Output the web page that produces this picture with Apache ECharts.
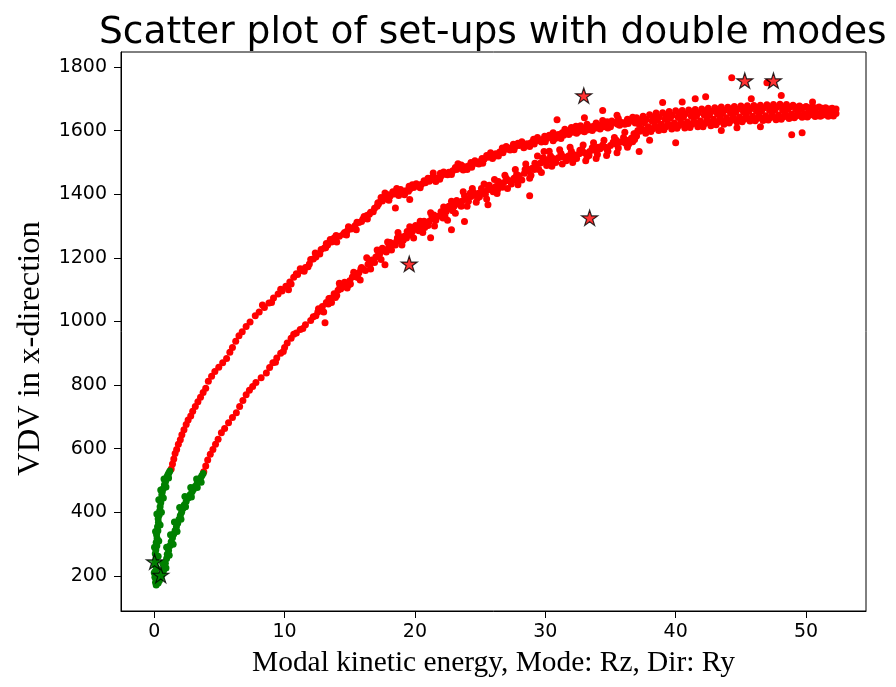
<!DOCTYPE html>
<html>
<head>
<meta charset="utf-8">
<script src="https://cdn.jsdelivr.net/npm/echarts@6/dist/echarts.min.js"></script>
<style>html,body{margin:0;padding:0;background:#fff}#chart{width:896px;height:687px}</style>
</head>
<body>
<div id="chart"></div>
<script>
const titleText = 'Scatter plot of set-ups with double modes';
const xName = 'Modal kinetic energy, Mode: Rz, Dir: Ry';
const yName = 'VDV in x-direction';
const xTicks = [0, 10, 20, 30, 40, 50];
const yTicks = [200, 400, 600, 800, 1000, 1200, 1400, 1600, 1800];

const greenUpper = [[0.15,172],[0.1,180],[0.2,188],[0.05,196],[0.12,205],[0.08,215],[0.18,225],[0.05,235],[0.1,248],[0.15,258],[0.08,270],[0.12,282],[0.2,295],[0.15,305],[0.22,318],[0.18,330],[0.28,342],[0.25,355],[0.32,368],[0.3,380],[0.38,392],[0.42,405],[0.45,418],[0.5,430],[0.55,442],[0.58,455],[0.62,465],[0.7,475],[0.78,486],[0.85,495],[0.9,503],[0.98,512],[1.05,518],[1.12,524],[1.2,530],
[0.25,200],[0.0,210],[0.3,262],[0.02,290],[0.35,310],[0.1,340],[0.45,360],[0.2,395],[0.55,400],[0.35,440],[0.7,445],[0.5,470],[0.9,480],[0.75,505],[1.1,508]];
const greenLower = [[0.3,178],[0.4,186],[0.5,195],[0.6,205],[0.7,215],[0.75,228],[0.85,240],[0.95,255],[1.0,268],[1.1,280],[1.2,295],[1.3,308],[1.4,320],[1.5,332],[1.6,343],[1.7,355],[1.8,366],[1.9,378],[2.0,390],[2.1,400],[2.2,412],[2.3,423],[2.45,434],[2.6,445],[2.75,455],[2.9,465],[3.0,472],[3.15,482],[3.3,492],[3.45,500],[3.55,508],[3.65,515],[3.75,522],
[0.9,225],[0.65,240],[1.15,265],[0.95,290],[1.45,300],[1.25,330],[1.75,340],[1.55,370],[2.05,378],[1.95,415],[2.4,418],[2.35,450],[2.85,448],[2.8,478],[3.3,478],[3.25,505],[3.6,495]];

const redUpper = [[1.3,536],[1.4,552],[1.5,568],[1.6,585],[1.72,598],[1.85,614],[2.0,628],[2.12,644],[2.28,660],[2.45,676],[2.6,690],[2.8,703],[2.95,718],[3.15,733],[3.35,748],[3.55,762],[3.75,777],[3.95,790],[4.15,812],[4.4,828],[4.65,843],[4.95,856],[5.25,870],[5.55,884],[5.8,903],[6.0,918],[6.25,938],[6.5,955],[6.75,968],[7.05,984],[7.35,998],[7.75,1018],[8.05,1030],[8.45,1044],[8.8,1058],[9.15,1074],[9.5,1086],[9.8,1096],[10.1,1111],[10.4,1124],[10.7,1139],[11.0,1148],[11.3,1160],[11.6,1170],[11.9,1181],[12.2,1196],[12.5,1212],[12.8,1226],[13.05,1231],[13.3,1240],[13.6,1250],[13.9,1257],[14.2,1268],[14.5,1274],[14.8,1284],[15.1,1291],[15.4,1301],[15.7,1311],[16.0,1321],[16.3,1333],[16.6,1343],[16.9,1356],[17.2,1369],[17.5,1379],[17.8,1390],[18.1,1394],[18.4,1401],[18.7,1404],[19.0,1408],[19.3,1411],[19.6,1416],[19.9,1421],[20.2,1426],[20.5,1431],[20.8,1436],[21.1,1441],[21.4,1446],[21.7,1451],[22.0,1457],[22.3,1463],[22.6,1469],[22.9,1474],[23.2,1478],[23.5,1482],[23.8,1486],[24.1,1489],[24.4,1493],[24.7,1497],[25.0,1503],[25.3,1510],[25.6,1516],[25.9,1521],[26.2,1527],[26.5,1533],[26.8,1538],[27.1,1542],[27.4,1546],[27.7,1550],[28.0,1553],[28.3,1556],[28.6,1559],[28.9,1562],[29.2,1566],[29.5,1569],[29.8,1572],[30.1,1575],[30.4,1578],[30.7,1583],[31.0,1588],[31.3,1593],[31.6,1597],[31.9,1600],[32.2,1603],[32.5,1606],[32.8,1608],[33.1,1610],[33.4,1612],[33.7,1614],[34.0,1616],[34.3,1618],[34.6,1620],[35.0,1622],[35.4,1624],[35.8,1626],[36.2,1628],[36.6,1630],
[8.3,1052],[9.0,1060],[9.7,1101],[10.5,1118],[11.2,1166],[11.8,1172],[12.4,1203],[13.2,1245],[13.8,1262],[14.6,1280],[15.3,1295],[15.9,1314],[16.5,1337],[17.1,1362],[17.7,1386],[18.3,1408],[18.9,1415],[19.5,1409],[20.1,1433],[20.7,1442],[21.3,1452],[21.9,1447],[22.5,1461],[23.1,1484],[23.7,1476],[24.3,1500],[24.9,1495],[25.5,1522],[26.1,1519],[26.7,1545],[27.3,1539],[27.9,1560],[28.5,1552],[29.1,1573],[29.7,1564],[30.3,1585],[30.9,1580],[31.5,1604],[32.1,1595],[32.7,1615],[33.3,1603],[33.9,1624],[34.5,1612],[35.1,1630],[35.7,1617],[36.3,1636],[36.9,1624],[30.6,1568],[31.2,1575],[31.8,1588],[32.4,1592],[33.0,1596],[33.6,1600],[34.2,1605],[34.8,1608],[17.2,1373],[17.7,1404],[18.5,1357],[19.6,1383],[21.4,1467],[23.3,1496],
[10.3,1100],[10.9,1150],[11.5,1158],[12.0,1195],[12.7,1212],[13.5,1258],[14.0,1250],[14.9,1298],[15.5,1288],[16.1,1330],[16.8,1345],[17.4,1390],[18.0,1381],[18.6,1418],[19.2,1398],[19.8,1430],[20.4,1420],[21.0,1450],[21.6,1440],[22.2,1470],[22.8,1462],[23.4,1490],[24.0,1478],[24.6,1505],[25.2,1497],[25.8,1530],[26.4,1520],[27.0,1550],[27.6,1540],[28.2,1565],[28.8,1550],[29.4,1578],[30.0,1565],[30.6,1593],[31.4,1585],[32.0,1610],[32.6,1598],[33.2,1620],[33.8,1607],[34.4,1632],[35.0,1612],[35.6,1638],[36.1,1620],[36.7,1642],
[12.35,1215],[13.15,1232],[13.95,1270],[14.75,1272],[15.55,1312],[16.35,1322],[17.15,1372],[17.95,1398],[18.75,1396],[19.55,1425],[20.35,1425],[21.15,1448],[21.95,1466],[22.75,1468],[23.55,1492],[24.35,1485],[25.15,1512],[25.95,1512],[26.75,1530],[27.55,1557],[28.35,1546],[29.15,1558],[29.95,1582],[30.75,1575],[31.55,1590],[32.35,1614],[33.15,1602],[33.95,1612],[34.75,1628],[35.55,1620],[36.35,1622]];

const redLower = [[3.8,528],[3.95,546],[4.1,565],[4.3,583],[4.5,598],[4.7,614],[4.9,630],[5.15,650],[5.4,664],[5.7,682],[6.0,698],[6.3,713],[6.55,733],[6.8,752],[7.05,770],[7.3,784],[7.55,796],[7.8,808],[8.2,823],[8.6,838],[8.85,855],[9.1,870],[9.4,885],[9.7,900],[10.0,918],[10.2,932],[10.5,947],[10.9,964],[11.2,975],[11.6,990],[12.0,1003],[12.4,1018],[12.7,1035],[12.9,1047],[13.2,1060],[13.5,1073],[13.8,1087],[14.1,1098],[14.4,1108],[14.7,1118],[15.0,1128],[15.4,1141],[15.7,1153],[16.0,1165],[16.4,1180],[16.7,1193],[17.0,1203],[17.3,1213],[17.6,1223],[18.0,1236],[18.3,1244],[18.6,1252],[18.9,1260],[19.2,1268],[19.5,1275],[19.8,1283],[20.1,1290],[20.5,1300],[20.8,1307],[21.1,1315],[21.4,1322],[21.8,1331],[22.1,1338],[22.4,1346],[22.7,1354],[23.0,1362],[23.3,1370],[23.6,1378],[23.9,1385],[24.3,1393],[24.6,1398],[24.9,1403],[25.2,1408],[25.6,1414],[25.9,1419],[26.2,1424],[26.5,1430],[26.8,1436],[27.2,1443],[27.6,1450],[28.0,1458],[28.4,1466],[28.7,1474],[29.0,1482],[29.3,1490],[29.6,1497],[29.9,1503],[30.2,1508],[30.6,1512],[31.0,1515],[31.4,1518],[31.8,1521],[32.2,1524],[32.6,1527],[33.0,1530],[33.4,1534],[33.8,1538],[34.2,1543],[34.6,1548],[35.0,1553],[35.4,1558],[35.8,1564],[36.2,1570],[36.6,1576],[37.0,1583],
[9.3,872],[9.9,906],[10.7,960],[11.4,978],[12.2,1015],[12.8,1036],[13.4,1072],[13.6,1060],[14.0,1082],[14.3,1102],[14.6,1123],[14.9,1115],[15.2,1140],[15.6,1138],[15.9,1170],[16.2,1160],[16.5,1190],[16.9,1185],[17.2,1210],[17.5,1230],[17.8,1218],[18.1,1248],[18.5,1240],[18.8,1268],[19.1,1255],[19.4,1283],[19.7,1272],[20.0,1298],[20.3,1285],[20.7,1315],[21.0,1302],[21.3,1330],[21.6,1318],[22.0,1345],[22.3,1330],[22.6,1362],[22.9,1348],[23.2,1380],[23.5,1365],[23.8,1395],[24.1,1378],[24.5,1405],[24.8,1388],[25.1,1418],[25.4,1400],[25.7,1428],[26.0,1408],[26.4,1440],[26.7,1422],[27.0,1450],[27.4,1432],[27.8,1462],[28.2,1445],[28.6,1480],[28.9,1460],[29.2,1497],[29.5,1478],[29.8,1512],[30.1,1490],[30.4,1520],[30.8,1500],[31.2,1528],[31.6,1505],[32.0,1535],[32.4,1512],[32.8,1540],[33.2,1518],[33.6,1546],[34.0,1525],[34.4,1555],[34.8,1535],[35.2,1563],[35.6,1545],[36.0,1578],[36.4,1558],[36.8,1590],
[25.6,1367],[23.8,1314],[28.8,1395],[22.8,1288],[21.2,1263],[13.1,996],[17.7,1178],[29.9,1534],
[12.6,1040],[13.0,1030],[13.9,1075],[14.2,1120],[14.8,1105],[15.3,1155],[15.8,1130],[16.3,1200],[16.6,1165],[17.1,1225],[17.4,1195],[17.9,1250],[18.2,1225],[18.7,1280],[19.0,1240],[19.6,1298],[19.9,1262],[20.4,1315],[20.6,1280],[21.2,1342],[21.5,1300],[22.2,1360],[22.5,1318],[22.8,1378],[23.1,1340],[23.7,1408],[24.0,1362],[24.4,1418],[24.7,1375],[25.3,1432],[25.5,1385],[26.1,1446],[26.3,1402],[26.9,1460],[27.1,1418],[27.7,1478],[27.9,1430],[28.5,1495],[28.8,1450],[29.4,1520],[29.7,1468],[30.3,1535],[30.5,1488],[31.1,1540],[31.3,1495],[31.9,1548],[32.1,1500],[32.9,1555],[33.1,1505],[33.7,1562],[33.9,1512],[34.5,1570],[34.7,1522],[35.3,1578],[35.5,1530],[36.1,1595],[36.3,1548],[36.7,1565],
[12.55,1030],[13.35,1055],[14.25,1110],[15.05,1118],[15.85,1165],[16.55,1178],[17.25,1222],[17.95,1228],[18.65,1262],[19.35,1262],[20.05,1302],[20.75,1295],[21.45,1335],[22.15,1325],[22.85,1368],[23.55,1362],[24.25,1404],[24.95,1392],[25.65,1426],[26.35,1415],[27.05,1443],[27.75,1445],[28.45,1478],[29.15,1478],[29.85,1515],[30.55,1500],[31.25,1518],[31.95,1512],[32.65,1538],[33.35,1522],[34.05,1548],[34.75,1540],[35.45,1570],[36.15,1560],[36.85,1572]];

const redMerged = [[37.0,1640],[37.2,1620],[37.1,1600],[36.9,1590],[37.5,1645],[37.6,1625],[37.4,1606],[37.7,1592],[38.0,1650],[38.2,1630],[37.9,1612],[38.1,1597],[38.5,1655],[38.6,1633],[38.4,1617],[38.7,1600],[39.0,1656],[39.2,1636],[38.9,1620],[39.1,1603],[39.5,1660],[39.6,1640],[39.4,1622],[39.7,1605],[40.0,1662],[40.2,1641],[39.9,1624],[40.1,1607],[40.5,1663],[40.6,1643],[40.4,1626],[40.7,1608],[41.0,1665],[41.2,1645],[40.9,1627],[41.1,1610],[41.5,1666],[41.6,1646],[41.4,1629],[41.7,1612],[42.0,1668],[42.2,1648],[41.9,1630],[42.1,1612],[42.5,1670],[42.6,1650],[42.4,1633],[42.7,1615],[43.0,1672],[43.2,1652],[42.9,1636],[43.1,1618],[43.5,1674],[43.6,1654],[43.4,1638],[43.7,1620],[44.0,1673],[44.2,1656],[43.9,1640],[44.1,1624],[44.5,1676],[44.6,1658],[44.4,1642],[44.7,1627],[45.0,1677],[45.2,1659],[44.9,1643],[45.1,1628],[45.5,1678],[45.6,1660],[45.4,1644],[45.7,1630],[46.0,1679],[46.2,1661],[45.9,1645],[46.1,1631],[46.5,1680],[46.6,1662],[46.4,1646],[46.7,1632],[47.0,1681],[47.2,1663],[46.9,1647],[47.1,1633],[47.5,1682],[47.6,1664],[47.4,1648],[47.7,1634],[48.0,1683],[48.2,1665],[47.9,1649],[48.1,1636],[48.5,1682],[48.6,1666],[48.4,1650],[48.7,1638],[49.0,1680],[49.2,1666],[48.9,1651],[49.1,1640],[49.5,1677],[49.6,1666],[49.4,1652],[49.7,1642],[50.0,1676],[50.2,1666],[49.9,1653],[50.1,1643],[50.5,1675],[50.6,1665],[50.4,1652],[50.7,1644],[51.0,1674],[51.2,1664],[50.9,1652],[51.1,1645],[51.5,1672],[51.6,1663],[51.4,1651],[51.7,1645],[52.0,1670],[52.2,1662],[51.9,1651],[52.1,1646],[52.3,1668],[52.3,1654],
[37.25,1630],[37.75,1635],[38.25,1640],[38.75,1643],[39.25,1646],[39.75,1648],[40.25,1650],[40.75,1653],[41.25,1655],[41.75,1656],[42.25,1657],[42.75,1660],[43.25,1662],[43.75,1664],[44.25,1665],[44.75,1667],[45.25,1668],[45.75,1669],[46.25,1670],[46.75,1671],[47.25,1672],[47.75,1673],[48.25,1674],[48.75,1673],[49.25,1673],[49.75,1672],[50.25,1672],[50.75,1671],[51.25,1670],[51.75,1668],
[37.25,1598],[37.75,1602],[38.25,1606],[38.75,1609],[39.25,1612],[39.75,1614],[40.25,1616],[40.75,1618],[41.25,1620],[41.75,1621],[42.25,1622],[42.75,1625],[43.25,1627],[43.75,1629],[44.25,1632],[44.75,1634],[45.25,1636],[45.75,1637],[46.25,1638],[46.75,1639],[47.25,1640],[47.75,1641],[48.25,1643],[48.75,1645],[49.25,1646],[49.75,1647],[50.25,1648],[50.75,1648],[51.25,1648],[51.75,1649],
[40.0,1562],[48.9,1587],[44.7,1609],[42.3,1706],[48.1,1710],[39.0,1688],[34.4,1663],[30.9,1634],[37.2,1534],[44.3,1766],[47.0,1750],[41.5,1700],[45.8,1700],[50.5,1690],[43.5,1600],[46.5,1612],[49.7,1593],[38.0,1570],[35.5,1648],[33.0,1640],[40.5,1690]];

const redStars = [[32.95,1710],[33.4,1326],[19.56,1181],[45.3,1757],[47.5,1757]];
const greenStars = [[0.02,245],[0.5,203]];

const starPath = 'path://M50,0 L61.2,34.5 L97.6,34.5 L68.2,55.9 L79.4,90.5 L50,69.1 L20.6,90.5 L31.8,55.9 L2.4,34.5 L38.8,34.5 Z';

const chart = echarts.init(document.getElementById('chart'));
const axisCommon = {
  type: 'value',
  axisLine: { show: true, onZero: false, lineStyle: { color: '#000', width: 1 } },
  splitLine: { show: false },
  nameLocation: 'middle'
};
const dot = (data, color) => ({
  type: 'scatter', data, symbol: 'circle', symbolSize: 7,
  itemStyle: { color, opacity: 1 }, silent: true
});
chart.setOption({
  animation: false,
  backgroundColor: '#fff',
  title: {
    text: titleText, left: 94, top: 9,
    textStyle: { fontFamily: 'DejaVu Sans', fontSize: 37.6, fontWeight: 'normal', color: '#000' }
  },
  grid: { left: 121, right: 30, top: 52, bottom: 76, show: true, borderColor: '#000', borderWidth: 1, containLabel: false },
  xAxis: Object.assign({}, axisCommon, {
    min: -2.55, max: 54.6,
    name: xName, nameGap: 38,
    nameTextStyle: { fontFamily: 'Liberation Serif', fontSize: 29.4, color: '#000' },
    axisTick: { show: true, customValues: xTicks, length: 7, lineStyle: { color: '#000' } },
    axisLabel: { customValues: xTicks, fontFamily: 'DejaVu Sans', fontSize: 19, color: '#000', margin: 12,
      formatter: v => String(v) }
  }),
  yAxis: Object.assign({}, axisCommon, {
    min: 90, max: 1847,
    name: yName, nameGap: 74,
    nameTextStyle: { fontFamily: 'Liberation Serif', fontSize: 32.5, color: '#000', padding: [0, 34, 0, 0] },
    axisTick: { show: true, customValues: yTicks, length: 7, lineStyle: { color: '#000' } },
    axisLabel: { customValues: yTicks, fontFamily: 'DejaVu Sans', fontSize: 19, color: '#000', margin: 14,
      formatter: v => String(v) }
  }),
  series: [
    dot(redUpper, '#ff0000'),
    dot(redLower, '#ff0000'),
    dot(redMerged, '#ff0000'),
    dot(greenUpper, '#008000'),
    dot(greenLower, '#008000'),
    { type: 'scatter', data: redStars, symbol: starPath, symbolSize: 16, symbolKeepAspect: true,
      itemStyle: { color: '#ff0000', borderColor: '#000', borderWidth: 1.2 }, z: 5 },
    { type: 'scatter', data: greenStars, symbol: starPath, symbolSize: 16, symbolKeepAspect: true,
      itemStyle: { color: '#008000', borderColor: '#000', borderWidth: 1.2 }, z: 5 }
  ]
});
</script>
</body>
</html>
